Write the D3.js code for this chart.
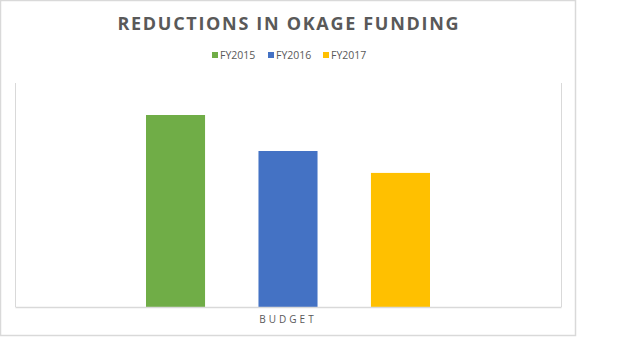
<!DOCTYPE html>
<html>
<head>
<meta charset="utf-8">
<script src="https://cdn.jsdelivr.net/npm/d3@7"></script>
<style>
  html, body { margin: 0; padding: 0; background: #fff; }
  svg { display: block; }
</style>
</head>
<body>
<svg id="chart" width="640" height="360"></svg>
<script>
const categories = ["BUDGET"];
const seriesNames = ["FY2015", "FY2016", "FY2017"];
const seriesValues = [1200, 975, 838];
const seriesColors = ["#70AD47", "#4472C4", "#FFC000"];
const yDomainMax = 1400;
const titleText = "REDUCTIONS IN OKAGE FUNDING";

const svg = d3.select("#chart");
const textColor = "#595959";
const borderColor = "#D9D9D9";

// outer chart border
svg.append("rect")
  .attr("x", 0.5).attr("y", 0.5)
  .attr("width", 575).attr("height", 335)
  .attr("fill", "#fff").attr("stroke", borderColor).attr("stroke-width", 1.5);

const plot = { left: 15, top: 83, right: 561, bottom: 307 };

const x0 = d3.scaleBand().domain(categories)
  .range([plot.left, plot.right]).paddingInner(0).paddingOuter(0);
const groupOuter = 131;
const x1 = d3.scaleBand().domain(seriesNames)
  .range([groupOuter, x0.bandwidth() - groupOuter]).paddingInner(0.475).paddingOuter(0);
const y = d3.scaleLinear().domain([0, yDomainMax]).range([plot.bottom, plot.top]);

// plot area border (left, right, bottom)
svg.append("line").attr("x1", plot.left + 0.5).attr("x2", plot.left + 0.5)
  .attr("y1", plot.top).attr("y2", plot.bottom).attr("stroke", borderColor);
svg.append("line").attr("x1", plot.right + 0.5).attr("x2", plot.right + 0.5)
  .attr("y1", plot.top).attr("y2", plot.bottom).attr("stroke", borderColor);

// bars
const g = svg.append("g");
categories.forEach(cat => {
  g.selectAll("rect.bar-" + cat)
    .data(seriesNames.map((s, i) => ({ s, v: seriesValues[i], c: seriesColors[i] })))
    .enter().append("rect")
    .attr("x", d => x0(cat) + x1(d.s))
    .attr("y", d => y(d.v))
    .attr("width", x1.bandwidth())
    .attr("height", d => y(0) - y(d.v))
    .attr("fill", d => d.c);
});

// x axis
const xAxis = d3.axisBottom(x0).tickSize(0).tickPadding(9);
const ax = svg.append("g").attr("transform", `translate(0,${plot.bottom})`).call(xAxis);
ax.select(".domain").attr("stroke", borderColor).attr("stroke-width", 1.5);
ax.selectAll("text")
  .attr("fill", textColor)
  .style("font-family", "'Open Sans', 'Noto Sans', sans-serif")
  .style("font-size", "10px")
  .style("letter-spacing", "3px");

// title
svg.append("text")
  .attr("x", 288).attr("y", 30)
  .attr("text-anchor", "middle")
  .attr("fill", textColor)
  .style("font-family", "'Open Sans', 'Noto Sans', sans-serif")
  .style("font-weight", "bold")
  .style("font-size", "18px")
  .attr("textLength", 341)
  .attr("lengthAdjust", "spacing")
  .text(titleText);

// legend
const legendX = [212, 268, 323];
const leg = svg.append("g");
seriesNames.forEach((s, i) => {
  leg.append("rect")
    .attr("x", legendX[i]).attr("y", 52)
    .attr("width", 6).attr("height", 6)
    .attr("fill", seriesColors[i]);
  leg.append("text")
    .attr("x", legendX[i] + 8).attr("y", 59)
    .attr("fill", textColor)
    .style("font-family", "'Open Sans', 'Noto Sans', sans-serif")
    .style("font-size", "10.5px")
    .text(s);
});
</script>
</body>
</html>
